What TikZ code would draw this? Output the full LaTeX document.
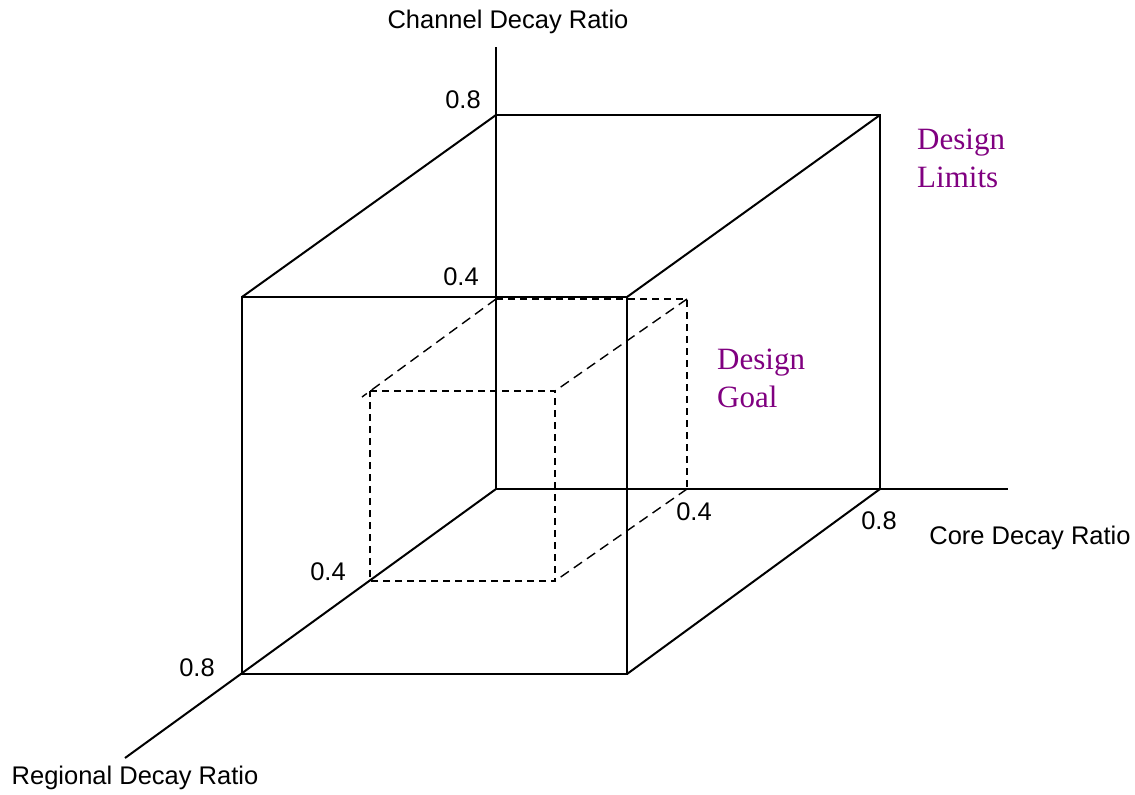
\documentclass[tikz,border=0pt]{standalone}
\usepackage{fontspec}
\setmainfont{Liberation Sans}
\newfontfamily\timesfont{Liberation Serif}
\definecolor{lblpurple}{RGB}{128,0,128}
\begin{document}
\begin{tikzpicture}[x=1pt,y=-1pt,
  edge/.style={line width=2pt},
  goalfront/.style={line width=2.6pt,dash pattern=on 7pt off 5pt},
  goalback/.style={line width=1.4pt,dash pattern=on 10pt off 6pt},
  axlabel/.style={font=\fontsize{25.5}{30}\selectfont,inner sep=0pt},
  tick/.style={font=\fontsize{25.5}{30}\selectfont,inner sep=0pt},
  design/.style={font=\timesfont\fontsize{31}{38}\selectfont,text=lblpurple,align=left,inner sep=0pt}]
\useasboundingbox (0,0) rectangle (1135,795);
% axes
\coordinate (O) at (496,489);
\coordinate (ytop) at (496,47);
\coordinate (xend) at (1008,489);
\coordinate (zend) at (125,758);
\draw[edge] (O) -- (ytop);
\draw[edge] (O) -- (xend);
\draw[edge] (O) -- (zend);
% outer cube corners
\coordinate (Bt) at (496,115);
\coordinate (Btr) at (880,115);
\coordinate (Bbr) at (880,489);
\coordinate (Ftl) at (242,297);
\coordinate (Ftr) at (627,297);
\coordinate (Fbr) at (627,674);
\coordinate (Fbl) at (242,674);
\draw[edge] (Bt) -- (Btr) -- (Bbr);
\draw[edge] (Bt) -- (Ftl);
\draw[edge] (Btr) -- (Ftr);
\draw[edge] (Bbr) -- (Fbr);
\draw[edge] (Ftl) -- (Ftr) -- (Fbr) -- (Fbl) -- cycle;
% inner cube corners
\coordinate (bt) at (496,299);
\coordinate (btr) at (687,299);
\coordinate (bbr) at (687,489);
\coordinate (ftl) at (370,391);
\coordinate (ftr) at (555,391);
\coordinate (fbr) at (555,581);
\coordinate (fbl) at (370,581);
\coordinate (ftlx) at (362,397);
\draw[goalfront] (ftl) -- (ftr) -- (fbr) -- (fbl) -- cycle;
\draw[goalfront] (bt) -- (btr) -- (bbr);
\draw[goalback] (bt) -- (ftlx);
\draw[goalback] (btr) -- (ftr);
\draw[goalback] (bbr) -- (fbr);
% labels
\node[axlabel] (lch) at (508,22) {Channel Decay Ratio};
\node[axlabel] (lco) at (1030,538) {Core Decay Ratio};
\node[axlabel] (lre) at (135,778) {Regional Decay Ratio};
\node[tick] (t1) at (463,100) {0.8};
\node[tick] (t2) at (461,277) {0.4};
\node[tick] (t3) at (328,572) {0.4};
\node[tick] (t4) at (197,668) {0.8};
\node[tick] (t5) at (694,512) {0.4};
\node[tick] (t6) at (879,521) {0.8};
\node[design,anchor=west] (dl) at (917,158) {Design\\Limits};
\node[design,anchor=west] (dg) at (717,378) {Design\\Goal};
\end{tikzpicture}
\end{document}
